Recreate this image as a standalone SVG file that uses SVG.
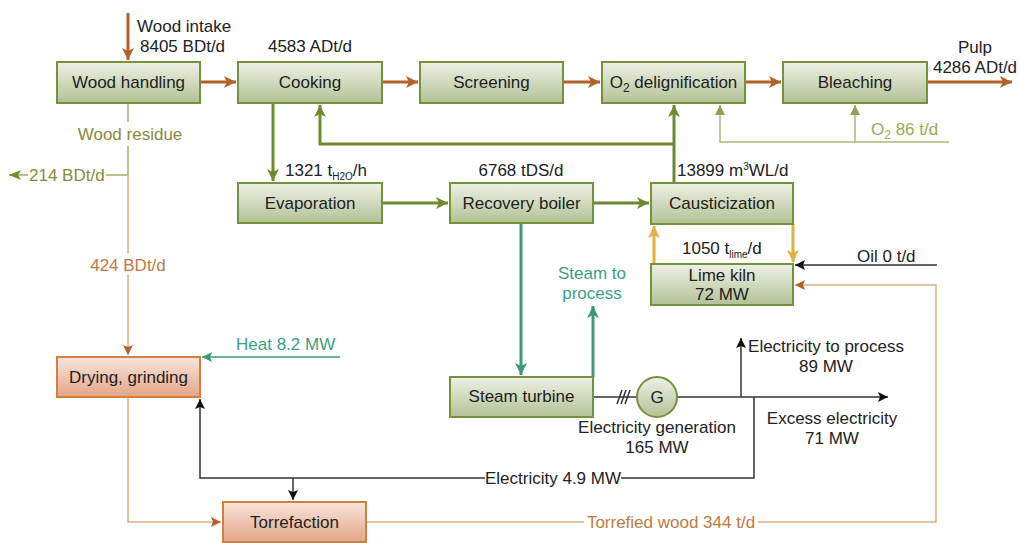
<svg xmlns="http://www.w3.org/2000/svg" width="1020" height="543" viewBox="0 0 1020 543">
<defs>
<linearGradient id="gG" x1="0" y1="0" x2="0" y2="1"><stop offset="0" stop-color="#eef1e6"/><stop offset="1" stop-color="#b3c195"/></linearGradient>
<linearGradient id="gO" x1="0" y1="0" x2="0" y2="1"><stop offset="0" stop-color="#f8e5dc"/><stop offset="1" stop-color="#e4a586"/></linearGradient>
<marker id="aBr" markerUnits="userSpaceOnUse" markerWidth="14" markerHeight="14" refX="12" refY="7" orient="auto"><path d="M0,1 L12,7 L0,13 L3,7 Z" fill="#b0622a"/></marker>
<marker id="aGr" markerUnits="userSpaceOnUse" markerWidth="14" markerHeight="14" refX="12" refY="7" orient="auto"><path d="M0,1 L12,7 L0,13 L3,7 Z" fill="#6e8a2c"/></marker>
<marker id="aLg" markerUnits="userSpaceOnUse" markerWidth="12" markerHeight="12" refX="10" refY="6" orient="auto"><path d="M0,1 L10,6 L0,11 Z" fill="#8ea35a"/></marker>
<marker id="aOl" markerUnits="userSpaceOnUse" markerWidth="14" markerHeight="12" refX="12" refY="6" orient="auto"><path d="M0,1 L12,6 L0,11 L3,6 Z" fill="#6e8a2c"/></marker>
<marker id="aTe" markerUnits="userSpaceOnUse" markerWidth="14" markerHeight="14" refX="12" refY="7" orient="auto"><path d="M0,1 L12,7 L0,13 L3,7 Z" fill="#3a9a78"/></marker>
<marker id="aTe2" markerUnits="userSpaceOnUse" markerWidth="12" markerHeight="12" refX="10" refY="6" orient="auto"><path d="M0,1 L10,6 L0,11 L2,6 Z" fill="#3a9a78"/></marker>
<marker id="aYe" markerUnits="userSpaceOnUse" markerWidth="14" markerHeight="14" refX="12" refY="7" orient="auto"><path d="M0,1 L12,7 L0,13 L3,7 Z" fill="#e3b040"/></marker>
<marker id="aBk" markerUnits="userSpaceOnUse" markerWidth="12" markerHeight="12" refX="10" refY="6" orient="auto"><path d="M0,1 L10,6 L0,11 L2,6 Z" fill="#111"/></marker>
<marker id="aTan" markerUnits="userSpaceOnUse" markerWidth="12" markerHeight="12" refX="10" refY="6" orient="auto"><path d="M0,1 L10,6 L0,11 L2,6 Z" fill="#b0622a"/></marker>
</defs>
<style>
text{font-family:"Liberation Sans",Arial,sans-serif;font-size:17px;fill:#222}
.c{text-anchor:middle}
.gb{fill:url(#gG);stroke:#77923c;stroke-width:2}
.ob{fill:url(#gO);stroke:#d3803f;stroke-width:2}
.br{stroke:#b0622a;stroke-width:3;fill:none}
.gr{stroke:#6e8a2c;stroke-width:3;fill:none}
.lg{stroke:#a9b97a;stroke-width:1.5;fill:none}
.ol{stroke:#9fae6e;stroke-width:1.5;fill:none}
.tan{stroke:#d9ae88;stroke-width:1.5;fill:none}
.te{stroke:#3a9a78;stroke-width:3;fill:none}
.te1{stroke:#3a9a78;stroke-width:1.5;fill:none}
.ye{stroke:#e3b040;stroke-width:3;fill:none}
.bk{stroke:#333;stroke-width:1.5;fill:none}
.tol{fill:#8a8a3a}
.tbr{fill:#c07a45}
.tte{fill:#3aa080}
.tlg{fill:#9aab55}
</style>
<g id="connectors">
<path class="br" d="M128,13 V60" marker-end="url(#aBr)"/>
<path class="br" d="M200,82 H236" marker-end="url(#aBr)"/>
<path class="br" d="M382,82 H418" marker-end="url(#aBr)"/>
<path class="br" d="M563,82 H600" marker-end="url(#aBr)"/>
<path class="br" d="M745,82 H781" marker-end="url(#aBr)"/>
<path class="br" d="M927,82 H1012" marker-end="url(#aBr)"/>
<path class="gr" d="M273,103 V181" marker-end="url(#aGr)"/>
<path class="gr" d="M382,203 H448" marker-end="url(#aGr)"/>
<path class="gr" d="M593,203 H649" marker-end="url(#aGr)"/>
<path class="gr" d="M674,183 V105" marker-end="url(#aGr)"/>
<path class="gr" d="M674,144 H320 V105" marker-end="url(#aGr)"/>
<path class="lg" d="M949,142 H720 V105" marker-end="url(#aLg)"/>
<path class="lg" d="M855,142 V105" marker-end="url(#aLg)"/>
<path class="ol" d="M128,103 V122"/>
<path class="ol" d="M128,146 V175"/>
<path class="ol" d="M128,175 H106"/>
<path class="ol" d="M28,175 H9" marker-end="url(#aOl)"/>
<path class="tan" d="M128,175 V253"/>
<path class="tan" d="M128,275 V355" marker-end="url(#aTan)"/>
<path class="te1" d="M340,357 H202" marker-end="url(#aTe2)"/>
<path class="te" d="M521,223 V375" marker-end="url(#aTe)"/>
<path class="te" d="M593,377 V306" marker-end="url(#aTe)"/>
<path class="ye" d="M654,264 V226" marker-end="url(#aYe)"/>
<path class="ye" d="M793,224 V262" marker-end="url(#aYe)"/>
<path class="bk" d="M937,265 H795" marker-end="url(#aBk)"/>
<path class="tan" d="M366,522 H584 M758,522 H936 V285 H795" marker-end="url(#aTan)"/>
<path class="tan" d="M128,397 V522 H221" marker-end="url(#aTan)"/>
<path class="bk" d="M593,397 H637"/>
<path class="bk" d="M617,404 L622,390 M621,404 L626,390 M625,404 L630,390" />
<path class="bk" d="M677,397 H888" marker-end="url(#aBk)"/>
<path class="bk" d="M741,397 V338" marker-end="url(#aBk)"/>
<path class="bk" d="M754,397 V478 H621"/>
<path class="bk" d="M485,478 H200 V399" marker-end="url(#aBk)"/>
<path class="bk" d="M293,478 V500" marker-end="url(#aBk)"/>
</g>
<g id="wood-handling"><rect class="gb" x="57" y="62" width="143" height="41"/><text class="c" x="128.5" y="88">Wood handling</text></g>
<g id="cooking"><rect class="gb" x="238" y="62" width="144" height="41"/><text class="c" x="310" y="88">Cooking</text></g>
<g id="screening"><rect class="gb" x="420" y="62" width="143" height="41"/><text class="c" x="491.5" y="88">Screening</text></g>
<g id="o2-delignification"><rect class="gb" x="602" y="62" width="143" height="41"/><text class="c" x="673.5" y="88">O<tspan font-size="12" dy="4">2</tspan><tspan dy="-4"> delignification</tspan></text></g>
<g id="bleaching"><rect class="gb" x="783" y="62" width="144" height="41"/><text class="c" x="855" y="88">Bleaching</text></g>
<g id="evaporation"><rect class="gb" x="238" y="183" width="144" height="40"/><text class="c" x="310" y="209">Evaporation</text></g>
<g id="recovery-boiler"><rect class="gb" x="450" y="183" width="143" height="40"/><text class="c" x="521.5" y="209">Recovery boiler</text></g>
<g id="causticization"><rect class="gb" x="651" y="183" width="142" height="41"/><text class="c" x="722" y="209">Causticization</text></g>
<g id="lime-kiln"><rect class="gb" x="651" y="264" width="142" height="41"/><text class="c" x="722" y="281">Lime kiln</text><text class="c" x="722" y="300">72 MW</text></g>
<g id="steam-turbine"><rect class="gb" x="450" y="377" width="143" height="40"/><text class="c" x="521.5" y="402">Steam turbine</text></g>
<g id="generator"><circle cx="657" cy="397" r="20" fill="url(#gG)" stroke="#77923c" stroke-width="2"/><text class="c" x="657" y="403" font-size="19">G</text></g>
<g id="drying-grinding"><rect class="ob" x="57" y="357" width="143" height="40"/><text class="c" x="128.5" y="383">Drying, grinding</text></g>
<g id="torrefaction"><rect class="ob" x="223" y="502" width="143" height="40"/><text class="c" x="294.5" y="528">Torrefaction</text></g>
<g id="labels">
<text x="137" y="32">Wood intake</text>
<text x="140" y="52">8405 BDt/d</text>
<text class="c" x="310" y="52">4583 ADt/d</text>
<text class="c" x="975" y="53">Pulp</text>
<text class="c" x="975" y="73">4286 ADt/d</text>
<text class="c tol" x="130" y="140">Wood residue</text>
<text class="tol" x="29" y="181">214 BDt/d</text>
<text class="c tbr" x="128" y="271">424 BDt/d</text>
<text class="tte" x="236" y="350">Heat 8.2 MW</text>
<text x="285" y="176">1321 t<tspan font-size="10" dy="4">H2O</tspan><tspan dy="-4">/h</tspan></text>
<text class="c" x="521" y="176">6768 tDS/d</text>
<text x="677" y="176">13899 m<tspan font-size="10" dy="-6">3</tspan><tspan dy="6">WL/d</tspan></text>
<text class="tlg" x="871" y="135">O<tspan font-size="12" dy="4">2</tspan><tspan dy="-4"> 86 t/d</tspan></text>
<text x="682" y="254">1050 t<tspan font-size="10" dy="4">lime</tspan><tspan dy="-4">/d</tspan></text>
<text x="857" y="262">Oil 0 t/d</text>
<text class="c tte" x="592" y="279">Steam to</text>
<text class="c tte" x="592" y="299">process</text>
<text class="c" x="826" y="352">Electricity to process</text>
<text class="c" x="826" y="372">89 MW</text>
<text class="c" x="832" y="424">Excess electricity</text>
<text class="c" x="832" y="444">71 MW</text>
<text class="c" x="657" y="433">Electricity generation</text>
<text class="c" x="657" y="453">165 MW</text>
<text class="c" x="553" y="484">Electricity 4.9 MW</text>
<text class="c tbr" x="671" y="528">Torrefied wood 344 t/d</text>
</g>
</svg>
